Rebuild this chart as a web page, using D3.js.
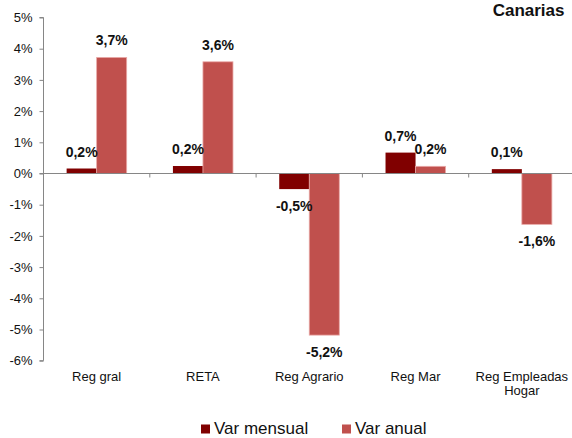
<!DOCTYPE html>
<html>
<head>
<meta charset="utf-8">
<script src="https://cdn.jsdelivr.net/npm/d3@7"></script>
<style>
  body { margin: 0; background: #fff; }
  svg { display: block; font-family: "Liberation Sans", Arial, sans-serif; }
</style>
</head>
<body>
<svg id="chart" width="572" height="438"></svg>
<script>
const categories = ["Reg gral", "RETA", "Reg Agrario", "Reg Mar", "Reg Empleadas Hogar"];
const seriesNames = ["Var mensual", "Var anual"];
const varMensual = [0.16, 0.24, -0.5, 0.67, 0.14];
const varAnual = [3.72, 3.58, -5.18, 0.23, -1.63];
const yTicks = [-6, -5, -4, -3, -2, -1, 0, 1, 2, 3, 4, 5];
const colors = ["#800000", "#c0504d"];

const svg = d3.select("#chart");
const margin = { top: 17.5, left: 43.5, right: 575, bottom: 360.7 };

const y = d3.scaleLinear()
    .domain([-6, 5])
    .range([margin.bottom, margin.top]);

const x0 = d3.scaleBand()
    .domain(categories)
    .range([margin.left, margin.right])
    .padding(0);

const x1 = d3.scaleBand()
    .domain(seriesNames)
    .range([0, x0.bandwidth()])
    .paddingInner(0)
    .paddingOuter(0.77);

const rows = categories.map((c, i) => ({
    category: c,
    values: [
        { series: seriesNames[0], value: varMensual[i] },
        { series: seriesNames[1], value: varAnual[i] }
    ]
}));

const fmt = v => v.toFixed(1).replace(".", ",") + "%";

// y axis
const yAxis = svg.append("g")
    .attr("transform", `translate(${margin.left},0)`)
    .call(d3.axisLeft(y).tickValues(yTicks).tickSize(4).tickPadding(7).tickFormat(d => `${d}%`));
yAxis.select(".domain").attr("stroke", "#868686").attr("d", `M-4,${margin.top}H0V${margin.bottom}H-4`);
yAxis.selectAll(".tick line").attr("stroke", "#868686");
yAxis.selectAll(".tick text")
    .attr("fill", "#111")
    .style("font-size", "13px")
    .style("font-family", "'Liberation Sans', Arial, sans-serif");

// bars
const groups = svg.selectAll(".grp")
    .data(rows)
    .join("g")
    .attr("class", "grp")
    .attr("transform", d => `translate(${x0(d.category)},0)`);

groups.selectAll("rect")
    .data(d => d.values)
    .join("rect")
    .attr("x", d => x1(d.series))
    .attr("y", d => y(Math.max(0, d.value)))
    .attr("width", x1.bandwidth())
    .attr("height", d => Math.abs(y(d.value) - y(0)))
    .attr("fill", (d, i) => colors[i])
    .attr("stroke", (d, i) => i === 1 ? "#e9a9a7" : "none")
    .attr("stroke-width", 0.8);

groups.selectAll("text.val")
    .data(d => d.values)
    .join("text")
    .attr("class", "val")
    .attr("x", d => x1(d.series) + x1.bandwidth() / 2)
    .attr("y", d => d.value >= 0 ? y(d.value) - 12 : y(d.value) + 21.5)
    .attr("text-anchor", "middle")
    .style("font-size", "14px")
    .style("font-weight", "bold")
    .attr("fill", "#111")
    .text(d => fmt(d.value));

// zero line and category ticks
svg.append("line")
    .attr("x1", margin.left - 4)
    .attr("x2", 572)
    .attr("y1", y(0))
    .attr("y2", y(0))
    .attr("stroke", "#868686");

svg.selectAll(".ctick")
    .data(categories.slice(1))
    .join("line")
    .attr("class", "ctick")
    .attr("x1", d => x0(d))
    .attr("x2", d => x0(d))
    .attr("y1", y(0))
    .attr("y2", y(0) + 4)
    .attr("stroke", "#868686");

// category labels with word wrap
svg.selectAll(".cat")
    .data(categories)
    .join("text")
    .attr("class", "cat")
    .attr("text-anchor", "middle")
    .attr("fill", "#111")
    .style("font-size", "13px")
    .each(function (d) {
        const t = d3.select(this);
        const cx = x0(d) + x0.bandwidth() / 2;
        const words = d.split(" ");
        let lines = [];
        let line = [];
        const probe = t.append("tspan");
        words.forEach(w => {
            const test = line.concat(w).join(" ");
            probe.text(test);
            if (probe.node().getComputedTextLength() > x0.bandwidth() - 4 && line.length) {
                lines.push(line.join(" "));
                line = [w];
            } else {
                line.push(w);
            }
        });
        lines.push(line.join(" "));
        probe.remove();
        lines.forEach((l, i) => {
            t.append("tspan")
                .attr("x", cx)
                .attr("y", 380.7 + i * 13.8)
                .text(l);
        });
    });

// title
svg.append("text")
    .attr("x", 564.5)
    .attr("y", 15.5)
    .attr("text-anchor", "end")
    .style("font-size", "17px")
    .style("font-weight", "bold")
    .attr("fill", "#111")
    .text("Canarias");

// legend
const legendX = [201, 342];
const legend = svg.selectAll(".leg")
    .data(seriesNames)
    .join("g")
    .attr("class", "leg")
    .attr("transform", (d, i) => `translate(${legendX[i]},0)`);

legend.append("rect")
    .attr("x", 0)
    .attr("y", 424.5)
    .attr("width", 9)
    .attr("height", 9)
    .attr("fill", (d, i) => colors[i]);

legend.append("text")
    .attr("x", 13)
    .attr("y", 434)
    .style("font-size", "17px")
    .attr("fill", "#111")
    .text(d => d);
</script>
</body>
</html>
